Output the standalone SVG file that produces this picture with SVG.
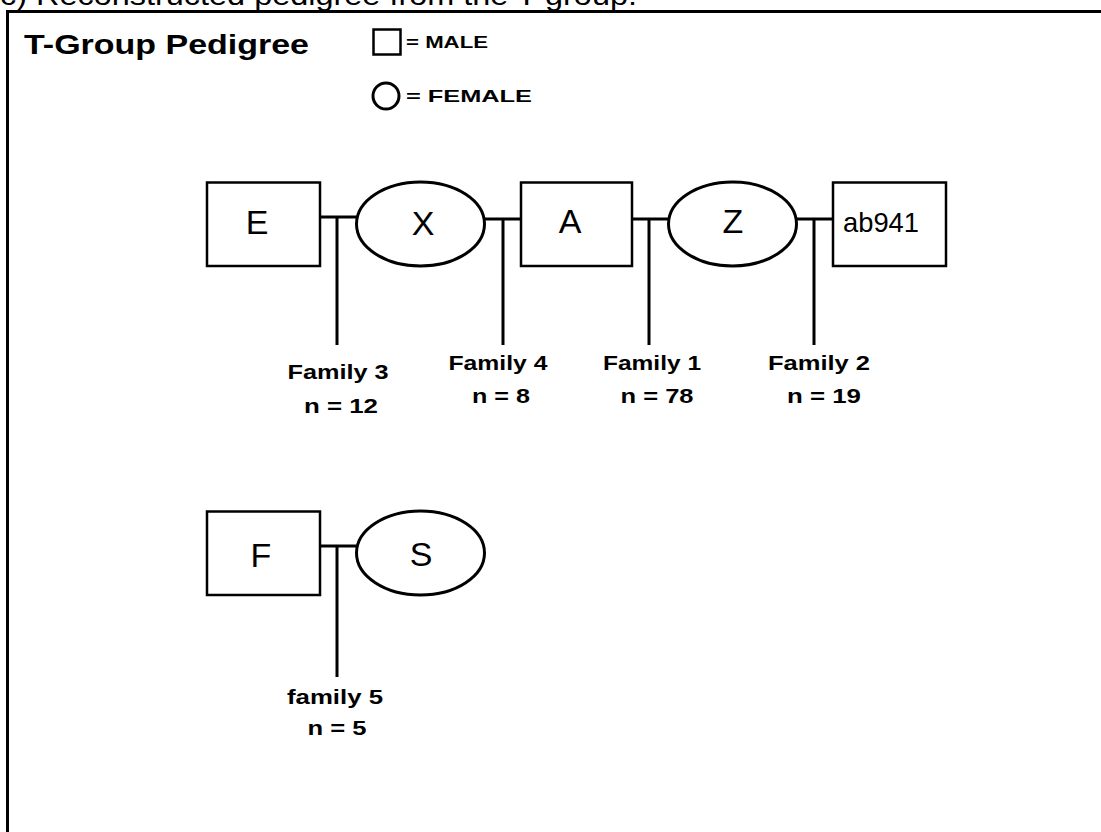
<svg xmlns="http://www.w3.org/2000/svg" width="1101" height="832" viewBox="0 0 1101 832">
  <style>
    .male { fill: #ffffff; stroke: #000000; stroke-width: 2.5; }
    .female { fill: #ffffff; stroke: #000000; stroke-width: 3; }
    .link { fill: none; stroke: #000000; stroke-width: 3; }
    .name { font-family: "Liberation Sans", Arial, sans-serif; font-size: 34px; fill: #000000; text-anchor: middle; }
    .fam { font-family: "Liberation Sans", Arial, sans-serif; font-weight: bold; font-size: 21px; fill: #000000; text-anchor: middle; }
    .legend { font-family: "Liberation Sans", Arial, sans-serif; font-weight: bold; font-size: 17px; fill: #000000; }
  </style>

  <rect width="1101" height="832" fill="#ffffff"/>

  <!-- caption, clipped by the top of the page -->
  <text x="0" y="5" font-family="Liberation Sans, Arial, sans-serif" font-size="28" textLength="637" lengthAdjust="spacingAndGlyphs">c) Reconstructed pedigree from the T group.</text>

  <!-- panel frame -->
  <path d="M7.5,840 V11.5 H1110" fill="none" stroke="#000000" stroke-width="3"/>

  <!-- title and key -->
  <g id="title">
    <text x="24" y="54" font-family="Liberation Sans, Arial, sans-serif" font-weight="bold" font-size="28" textLength="285" lengthAdjust="spacingAndGlyphs">T-Group Pedigree</text>
  </g>
  <g id="legend">
    <rect class="male" x="373.5" y="29.5" width="27" height="25"/>
    <text class="legend" x="406" y="48" textLength="82" lengthAdjust="spacingAndGlyphs">= MALE</text>
    <circle class="female" cx="386" cy="96" r="13" stroke-width="2.5"/>
    <text class="legend" x="406" y="102" textLength="126" lengthAdjust="spacingAndGlyphs">= FEMALE</text>
  </g>

  <!-- mating lines and descent lines -->
  <g id="connectors">
    <path class="link" d="M320,217 H356 M337,217 V345"/>
    <path class="link" d="M485,219 H521 M503,219 V345"/>
    <path class="link" d="M632,219 H668 M649,219 V345"/>
    <path class="link" d="M797,219 H833 M814,219 V345"/>
    <path class="link" d="M320,546 H356 M337,546 V677"/>
  </g>

  <!-- individuals -->
  <g id="node-E">
    <rect class="male" x="207" y="182.5" width="113" height="83.5"/>
    <text class="name" x="257" y="234">E</text>
  </g>
  <g id="node-X">
    <ellipse class="female" cx="420.5" cy="224" rx="64" ry="42"/>
    <text class="name" x="423" y="235">X</text>
  </g>
  <g id="node-A">
    <rect class="male" x="521" y="182.5" width="111" height="83.5"/>
    <text class="name" x="570" y="233">A</text>
  </g>
  <g id="node-Z">
    <ellipse class="female" cx="732.5" cy="224" rx="64" ry="42"/>
    <text class="name" x="733" y="233">Z</text>
  </g>
  <g id="node-ab941">
    <rect class="male" x="833" y="182.5" width="113" height="83.5"/>
    <text x="843" y="232" font-family="Liberation Sans, Arial, sans-serif" font-size="28" textLength="76" lengthAdjust="spacingAndGlyphs">ab941</text>
  </g>
  <g id="node-F">
    <rect class="male" x="207" y="511.5" width="113" height="83.5"/>
    <text class="name" x="261" y="567">F</text>
  </g>
  <g id="node-S">
    <ellipse class="female" cx="420.5" cy="553" rx="64" ry="42"/>
    <text class="name" x="421" y="566">S</text>
  </g>

  <!-- offspring groups -->
  <g id="family-3">
    <text class="fam" x="338" y="379" textLength="101" lengthAdjust="spacingAndGlyphs">Family 3</text>
    <text class="fam" x="341" y="413" textLength="74" lengthAdjust="spacingAndGlyphs">n = 12</text>
  </g>
  <g id="family-4">
    <text class="fam" x="498" y="370" textLength="99" lengthAdjust="spacingAndGlyphs">Family 4</text>
    <text class="fam" x="501" y="403" textLength="58" lengthAdjust="spacingAndGlyphs">n = 8</text>
  </g>
  <g id="family-1">
    <text class="fam" x="652" y="370" textLength="98" lengthAdjust="spacingAndGlyphs">Family 1</text>
    <text class="fam" x="657" y="403" textLength="73" lengthAdjust="spacingAndGlyphs">n = 78</text>
  </g>
  <g id="family-2">
    <text class="fam" x="819" y="370" textLength="102" lengthAdjust="spacingAndGlyphs">Family 2</text>
    <text class="fam" x="824" y="403" textLength="74" lengthAdjust="spacingAndGlyphs">n = 19</text>
  </g>
  <g id="family-5">
    <text class="fam" x="335" y="704" textLength="96" lengthAdjust="spacingAndGlyphs">family 5</text>
    <text class="fam" x="337" y="735" textLength="59" lengthAdjust="spacingAndGlyphs">n = 5</text>
  </g>
</svg>
